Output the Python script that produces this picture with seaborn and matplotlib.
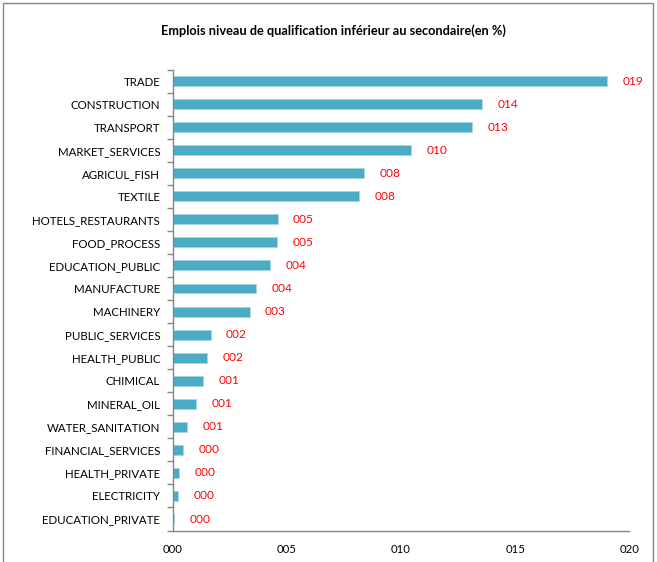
import matplotlib
matplotlib.use("Agg")
import matplotlib.pyplot as plt
from matplotlib.patches import Rectangle
from matplotlib.ticker import FixedLocator
import seaborn as sns
import pandas as pd

# Share of jobs held by workers below secondary qualification, by sector (%)
sectors = [
    "TRADE", "CONSTRUCTION", "TRANSPORT", "MARKET_SERVICES", "AGRICUL_FISH",
    "TEXTILE", "HOTELS_RESTAURANTS", "FOOD_PROCESS", "EDUCATION_PUBLIC",
    "MANUFACTURE", "MACHINERY", "PUBLIC_SERVICES", "HEALTH_PUBLIC", "CHIMICAL",
    "MINERAL_OIL", "WATER_SANITATION", "FINANCIAL_SERVICES", "HEALTH_PRIVATE",
    "ELECTRICITY", "EDUCATION_PRIVATE",
]
shares = [
    19.04, 13.55, 13.11, 10.44, 8.38,
    8.18, 4.60, 4.58, 4.26,
    3.66, 3.37, 1.66, 1.52, 1.34,
    1.02, 0.64, 0.45, 0.29,
    0.25, 0.07,
]
x_ticks = [0, 5, 10, 15, 20]
x_tick_labels = ["000", "005", "010", "015", "020"]
title = "Emplois niveau de qualification inférieur au secondaire(en %)"

df = pd.DataFrame({"sector": sectors, "share": shares})

sns.set_theme(style="white")
plt.rcParams["font.family"] = ["Lato", "DejaVu Sans"]

fig = plt.figure(figsize=(6.57, 5.62), dpi=100)
ax = fig.add_axes([0.2629, 0.056, 0.695, 0.8203])

sns.barplot(data=df, x="share", y="sector", orient="h", color="#4BACC6",
            saturation=1, width=0.43, edgecolor="#A9D5E3", linewidth=0.6, ax=ax)

ax.set_xlim(0, 20)
ax.set_ylim(len(sectors) - 0.5, -0.5)
ax.set_xlabel("")
ax.set_ylabel("")

axis_grey = "#868686"
for side in ("top", "right"):
    ax.spines[side].set_visible(False)
for side in ("left", "bottom"):
    ax.spines[side].set_color(axis_grey)
    ax.spines[side].set_linewidth(1.0)

ax.set_xticks(x_ticks)
ax.set_xticklabels(x_tick_labels)
ax.tick_params(axis="x", length=4, width=1, color=axis_grey, direction="out",
               labelsize=8.2, labelcolor="#000000", pad=6)
ax.tick_params(axis="y", which="major", length=0, labelsize=8.3,
               labelcolor="#000000", pad=9)
ax.yaxis.set_minor_locator(FixedLocator([i - 0.5 for i in range(len(sectors) + 1)]))
ax.tick_params(axis="y", which="minor", length=4, width=1, color=axis_grey,
               direction="out", left=True)

for i, v in enumerate(shares):
    ax.annotate(f"{v:03.0f}", xy=(v, i), xytext=(11, 0), textcoords="offset points",
                va="center", ha="left", color="#FF0000", fontsize=8.6)

fig.text(0.507, 1 - 31 / 562, title, ha="center", va="center",
         fontsize=9.2, fontweight="bold", color="#000000")

fig.patches.append(Rectangle((3 / 657, -0.02), (653 - 3) / 657, 1.02 - 3 / 562,
                             transform=fig.transFigure, fill=False,
                             edgecolor=axis_grey, linewidth=1.0))

fig.savefig("out.png", dpi=100)
